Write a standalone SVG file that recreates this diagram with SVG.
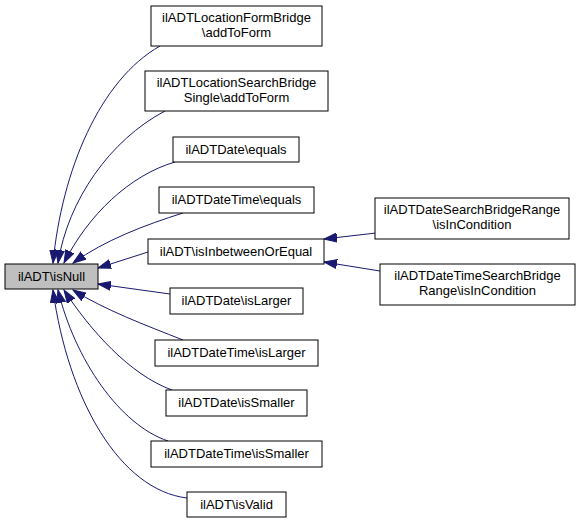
<svg xmlns="http://www.w3.org/2000/svg" width="580" height="523" viewBox="0 0 580 523">
<style>
.n rect{fill:#fff;stroke:#000;stroke-width:1}
.n.h rect{fill:#bfbfbf}
.n text{font-family:"Liberation Sans",Arial,sans-serif;font-size:13px;text-anchor:middle;fill:#000}
.e path{fill:none;stroke:#191970;stroke-width:1;marker-end:url(#ah)}
</style>
<defs>
<marker id="ah" markerUnits="userSpaceOnUse" markerWidth="14" markerHeight="10" viewBox="0 0 14 10" refX="13" refY="5" orient="auto">
<path d="M0,0.5 L13,5 L0,9.5 Z" fill="#191970" stroke="#191970"/>
</marker>
</defs>
<rect width="580" height="523" fill="#fff"/>
<g class="e" id="edges">
<path d="M160,46 C100,80 62,170 53,263"/>
<path d="M165,111 C110,140 68,200 58,263"/>
<path d="M175,162 C130,175 88,215 64,263"/>
<path d="M183,213 C145,225 105,240 73,263"/>
<path d="M148,252 L98,268"/>
<path d="M170,294 L98,284"/>
<path d="M183,340 C145,325 105,310 73,290"/>
<path d="M172,390 C130,375 90,330 64,290"/>
<path d="M168,441 C120,425 75,360 58,290"/>
<path d="M187,498 C120,490 68,400 53,290"/>
<path d="M376,233 L324,239"/>
<path d="M380,271 L324,262"/>
</g>
<g class="n h" id="n_isNull"><rect x="5" y="264" width="93" height="25"/><text x="51.5" y="281">ilADT\isNull</text></g>
<g class="n" id="n_formbridge"><rect x="151" y="6" width="171" height="40"/><text x="236.5" y="22">ilADTLocationFormBridge</text><text x="236.5" y="37">\addToForm</text></g>
<g class="n" id="n_searchsingle"><rect x="145" y="71" width="183" height="40"/><text x="236.5" y="87">ilADTLocationSearchBridge</text><text x="236.5" y="102">Single\addToForm</text></g>
<g class="n" id="n_date_equals"><rect x="173" y="137" width="126" height="25"/><text x="236" y="154">ilADTDate\equals</text></g>
<g class="n" id="n_datetime_equals"><rect x="159" y="187" width="155" height="26"/><text x="236.5" y="204">ilADTDateTime\equals</text></g>
<g class="n" id="n_inbetween"><rect x="148" y="239" width="176" height="25"/><text x="236" y="256">ilADT\isInbetweenOrEqual</text></g>
<g class="n" id="n_date_islarger"><rect x="170" y="288" width="133" height="26"/><text x="236.5" y="305">ilADTDate\isLarger</text></g>
<g class="n" id="n_datetime_islarger"><rect x="155" y="340" width="163" height="26"/><text x="236.5" y="357">ilADTDateTime\isLarger</text></g>
<g class="n" id="n_date_issmaller"><rect x="166" y="390" width="141" height="26"/><text x="236.5" y="407">ilADTDate\isSmaller</text></g>
<g class="n" id="n_datetime_issmaller"><rect x="151" y="441" width="171" height="26"/><text x="236.5" y="458">ilADTDateTime\isSmaller</text></g>
<g class="n" id="n_isvalid"><rect x="187" y="492" width="99" height="25"/><text x="236.5" y="509">ilADT\isValid</text></g>
<g class="n" id="n_datesearchrange"><rect x="375" y="198" width="194" height="41"/><text x="472" y="214">ilADTDateSearchBridgeRange</text><text x="472" y="229">\isInCondition</text></g>
<g class="n" id="n_datetimesearchrange"><rect x="380" y="264" width="195" height="41"/><text x="477.5" y="280">ilADTDateTimeSearchBridge</text><text x="477.5" y="295">Range\isInCondition</text></g>
</svg>
